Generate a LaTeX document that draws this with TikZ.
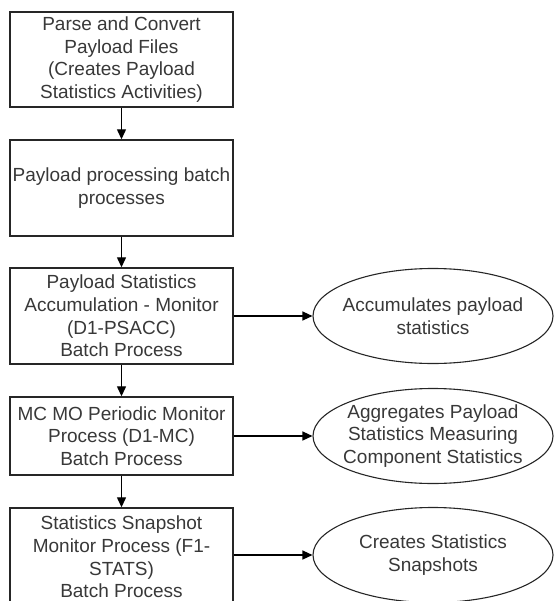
\documentclass[tikz,border=0pt]{standalone}
\usepackage{fontspec}
\setmainfont{Liberation Sans}
\usetikzlibrary{shapes.geometric,arrows.meta}
\begin{document}
\begin{tikzpicture}[x=1pt,y=-1pt,
  txt/.style={font=\fontsize{19}{22.7}\selectfont, text=black!78, align=center, inner sep=0pt},
  procbox/.style={txt, draw=black!85, line width=1.4pt, rectangle, minimum width=223pt},
  resell/.style={draw=black!85, line width=1.1pt, ellipse, inner sep=0pt, minimum width=240pt, minimum height=95pt},
  flow/.style={draw=black, line width=1.3pt, -{Triangle[length=10pt,width=9pt]}}]
\useasboundingbox (0,0) rectangle (553,601);
\node[procbox, minimum height=95pt] (b1) at (121.5,59.5) {Parse and Convert\\Payload Files\\(Creates Payload\\Statistics Activities)};
\node[procbox, minimum height=96pt] (b2) at (121.5,188) {Payload processing batch\\processes};
\node[procbox, minimum height=96pt] (b3) at (121.5,316) {Payload Statistics\\Accumulation - Monitor\\(D1-PSACC)\\Batch Process};
\node[procbox, minimum height=78pt] (b4) at (121.5,436) {MC MO Periodic Monitor\\Process (D1-MC)\\Batch Process};
\node[procbox, minimum height=98pt] (b5) at (121.5,557) {\raisebox{2pt}{\parbox{223pt}{\centering Statistics Snapshot\\Monitor Process (F1-\\STATS)\\Batch Process}}};
\node[resell] (e1) at (433,316) {};
\node[txt] (t1) at (e1.center) {Accumulates payload\\statistics};
\node[resell] (e2) at (433,436) {};
\node[txt] (t2) at (e2.center) {Aggregates Payload\\Statistics Measuring\\Component Statistics};
\node[resell] (e3) at (433,555) {};
\node[txt] (t3) at (e3.center) {Creates Statistics\\Snapshots};
\draw[flow] (b1.south) -- (b2.north);
\draw[flow] (b2.south) -- (b3.north);
\draw[flow] (b3.south) -- (b4.north);
\draw[flow] (b4.south) -- (b5.north);
\draw[flow] (b3.east) -- (e1.west);
\draw[flow] (b4.east) -- (e2.west);
\draw[flow] (b5.east |- e3.west) -- (e3.west);
\end{tikzpicture}
\end{document}
